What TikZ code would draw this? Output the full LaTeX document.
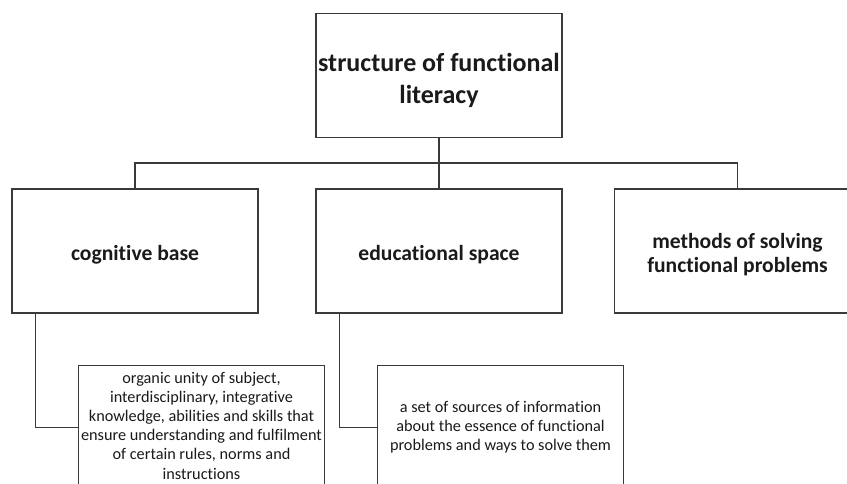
\documentclass[tikz,border=0pt]{standalone}
\usepackage{fontspec}
\setmainfont{Carlito}[Ligatures={NoCommon}]
\definecolor{linec}{HTML}{3A3A3A}
\definecolor{txtc}{HTML}{1A1A1A}
\begin{document}
\begin{tikzpicture}[x=0.75pt,y=-0.75pt,
  box/.style={draw=linec, line width=0.8pt, minimum width=184.5pt, minimum height=93pt,
    inner sep=0pt, align=center, text=txtc},
  bigtitle/.style={font=\fontsize{19.5}{24}\selectfont\bfseries, align=center, text=txtc, inner sep=0pt, yshift=-3.75pt},
  midtitle/.style={font=\fontsize{16.2}{18}\selectfont\bfseries, align=center, text=txtc, inner sep=0pt, yshift=-3pt},
  small/.style={font=\fontsize{12.2}{14.4}\selectfont, align=center, text=txtc, inner sep=0pt, yshift=1.5pt},
  conn/.style={draw=linec, line width=0.8pt}]
\useasboundingbox (0,0) rectangle (847,484);
\clip (0,0) rectangle (847,484);
\fill[white] (0,0) rectangle (847,484);
\node[box,label={[bigtitle]center:{structure of functional\\literacy}}] (top) at (439,75.5) {};
\node[box,label={[midtitle]center:{cognitive base}}] (cog) at (135,251) {};
\node[box,label={[midtitle]center:{educational space}}] (edu) at (439,251) {};
\node[box,label={[midtitle]center:{methods of solving\\functional problems}}] (meth) at (737.5,251) {};
\node[box,label={[small]center:{organic unity of subject,\\interdisciplinary, integrative\\knowledge, abilities and skills that\\ensure understanding and fulfilment\\of certain rules, norms and\\instructions}}] (low1) at (201.5,427.5) {};
\node[box,label={[small,yshift=-1.5pt]center:{a set of sources of information\\about the essence of functional\\problems and ways to solve them}}] (low2) at (500.5,427.5) {};
\coordinate (bus) at (439,163);
\draw[conn] (top.south) -- (edu.north);
\draw[conn] (cog.north) |- (bus) -| (meth.north);
\draw[conn] ([xshift=18pt]cog.south west) |- (low1.west);
\draw[conn] ([xshift=18pt]edu.south west) |- (low2.west);
\end{tikzpicture}
\end{document}
